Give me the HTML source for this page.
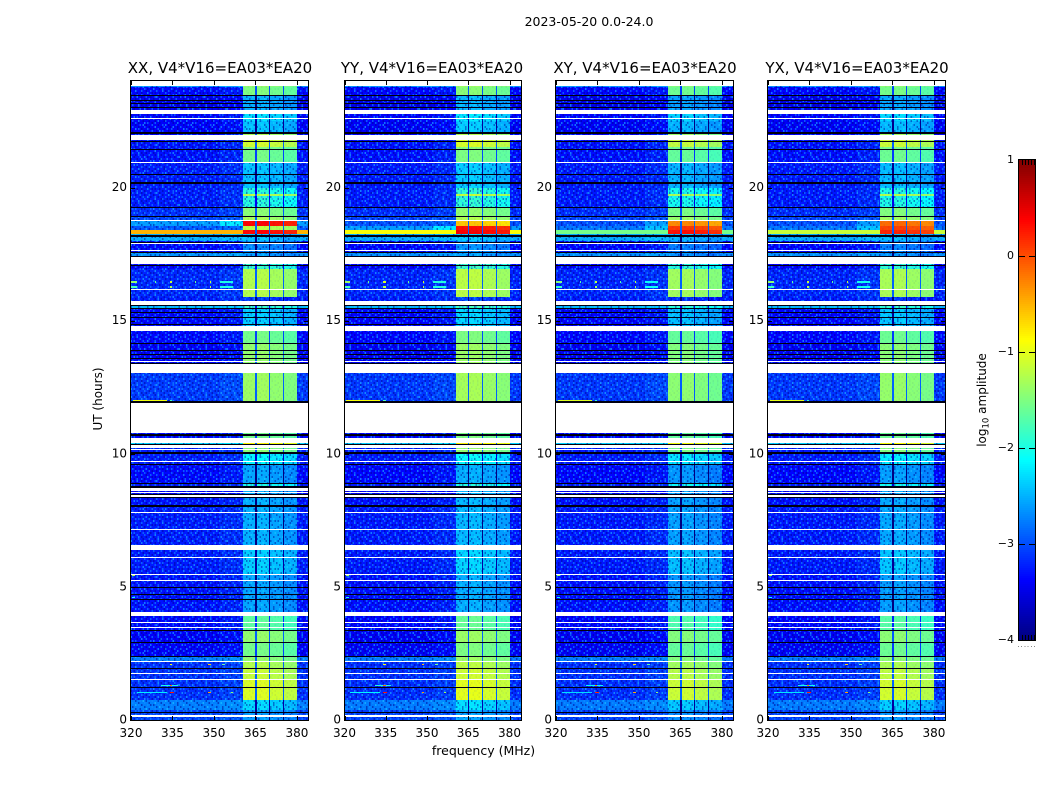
<!DOCTYPE html>
<html lang="en">
<head>
<meta charset="utf-8">
<title>2023-05-20 amplitude waterfall</title>
<style>
html,body{margin:0;padding:0;background:#fff;width:1050px;height:800px;overflow:hidden}
svg{display:block}
text{font-family:"DejaVu Sans","Liberation Sans",sans-serif;fill:#000}
</style>
</head>
<body>
<svg id="figure" width="1050" height="800" viewBox="0 0 1050 800" xmlns="http://www.w3.org/2000/svg">
<defs id="defs"></defs>
<rect x="0" y="0" width="1050" height="800" fill="#fff"/>
<text x="589" y="26" font-size="12.5" text-anchor="middle">2023-05-20 0.0-24.0</text>
<text x="483.5" y="755" font-size="12.5" text-anchor="middle">frequency (MHz)</text>
<text transform="translate(102,399) rotate(-90)" font-size="12" text-anchor="middle">UT (hours)</text>
<text transform="translate(986,400) rotate(-90)" font-size="12" text-anchor="middle">log<tspan font-size="8.5" dy="2.5">10</tspan><tspan dy="-2.5"> amplitude</tspan></text>
</svg>
<script>
// ---- chart data ----
const panelNames = ['XX','YY','XY','YX'];
const baselineLabel = 'V4*V16=EA03*EA20';
const freqTicks = [320,335,350,365,380];
const hourTicks = [0,5,10,15,20];
const colorTicks = [1,0,-1,-2,-3,-4];
const colorTickLabels = ['1','0','\u22121','\u22122','\u22123','\u22124'];

// time segments: start hour, background level, passband level (log10 amplitude)
const segmentStart = [0,0.38,0.75,1.53,1.94,2.18,2.40,2.93,3.39,4.07,5.25,5.47,6.38,7.16,8.09,8.39,8.60,8.71,8.92,9.63,10.05,10.33,10.41,10.59,11.95,13.40,14.16,14.62,14.81,15.49,15.59,15.75,15.89,16.94,17.11,17.40,17.54,17.99,18.25,18.42,18.55,18.74,18.94,19.27,19.68,19.76,20.00,20.96,21.43,21.52,21.78,22.05,22.50,22.76,23.45,23.76];
const backgroundLevel = [-3.05,-2.75,-3.15,-3.15,-3.15,-2.75,-3.4,-3.4,-3.35,-3.3,-3.3,-3.25,-3.25,-3.25,-3.3,-3.4,-3.15,-3.25,-3.35,-3.25,-3.25,-2.3,-3.25,-3.35,-3.1,-3.4,-3.35,-3.35,-3.35,-2.45,-3.25,-3.25,-3.2,-3.35,-3.35,-2.65,-3.35,-2.5,-0.5,-2.95,-2.8,-3.05,-3.15,-3.25,-3.25,-3.25,-3.25,-3.3,-3.3,-3.3,-3.35,-3.4,-3.35,-3.45,-3.35,-2.65];
const passbandLevel = [-2.6,-2.3,-1.05,-1.15,-1.25,-1.4,-1.55,-1.4,-1.65,-2.55,-2.55,-2.35,-2.5,-2.5,-2.5,-2.5,-1.3,-2.0,-2.55,-2.15,-1.45,-0.85,-1.45,-1.55,-1.35,-1.4,-1.55,-1.55,-2.35,-1.85,-2.1,-3.1,-1.25,-1.85,-2.6,-2.6,-2.7,-2.4,0.35,-1.2,0.35,-1.3,-1.45,-1.95,-1.2,-1.95,-2.4,-1.55,-1.5,-1.1,-1.3,-2.4,-2.25,-2.5,-1.5,-1.4];

// polarisation offsets and bright-event overrides
const backgroundOffset = [0,-0.02,-0.02,-0.02];
const passbandOffset = [0,0.04,-0.08,-0.04];
const eventStart = [18.25,18.42,18.55,13.58];
const eventEnd = [18.42,18.55,18.74,14.16];
const eventBackground = [[-0.5,-0.9,-1.55,-1.15],[-2.95,-2.6,-2.8,-2.8],[-2.6,-3.0,-3.0,-3.0],[-3.4,-3.4,-3.4,-3.4]];
const eventPassband = [[0.35,0.4,0.3,0.2],[-1.2,0.3,0.1,0.05],[0.35,-0.6,-0.3,-0.15],[-1.4,-0.8,-1.4,-1.2]];

// four sub-bands in MHz and their relative gain
const subbandStart = [360.5,365.4,370.4,375.4];
const subbandEnd = [364.9,370.0,375.0,380.0];
const subbandGain = [0.0,0.02,-0.06,-0.14];

// flagged (white) rows: start/end hour
const gapStart = [0.13,1.49,1.72,2.16,3.46,3.65,3.91,5.23,5.45,6.10,6.38,7.14,7.78,8.39,8.52,8.60,9.68,10.13,10.22,10.41,10.77,13.04,13.44,14.62,15.59,16.16,17.11,17.61,17.88,18.74,20.92,21.78,22.57,22.76,23.81];
const gapEnd = [0.17,1.55,1.76,2.20,3.50,3.69,4.07,5.27,5.49,6.14,6.57,7.18,7.82,8.45,8.55,8.71,9.71,10.16,10.33,10.59,11.95,13.40,13.48,14.81,15.75,16.20,17.40,17.65,17.92,18.78,20.96,21.98,22.61,22.91,24.0];

// dark dropout rows: centre hour
const dropoutHour = [0.29,1.23,1.94,2.40,2.93,3.39,4.54,4.74,4.98,8.09,8.37,8.50,8.80,8.91,9.63,10.05,10.36,10.75,11.98,13.42,13.58,13.75,13.91,14.16,14.87,15.15,15.34,15.49,15.57,17.10,17.42,17.58,17.95,18.21,18.94,19.27,20.19,20.52,21.43,21.76,22.03,22.07,23.03,23.18,23.29,23.47];
const dropoutThick = [0,0,0,0,0,0,0,0,0,1,0,0,1,0,0,1,0,1,1,0,0,0,0,0,0,0,0,0,0,0,0,0,0,1,0,0,1,0,0,0,0,1,0,0,0,0];

// narrow-band interference: hour, start MHz, end MHz, level
const rfiHour = [1.04,1.04,1.04,1.04,1.30,1.30,2.08,2.08,2.08,11.98,11.98,16.44,16.44,16.44,16.44,16.44,16.44,16.27,16.27,16.27,16.27,5.45,4.6];
const rfiStart = [322,334,348,356,331,334,334,348,353,320.7,334,320,328.6,334,343,348.5,352,320,334,348.5,352,320.5,320.5];
const rfiEnd = [333,335.5,349,357,337,335,335,349,354,333,335,322,329,335,343.5,349,357,322,335,349,357,321.5,321.5];
const rfiLevel = [-2.2,0.25,-0.4,-1.4,-2.0,-0.2,-0.9,-0.6,-1.6,-0.95,-1.8,-1.4,-1.6,-1.1,-1.6,-1.1,-2.0,-1.8,-1.3,-1.3,-2.0,-1.3,-2.0];

// hand-typed speckle tile for the noise-like grain
const grainTile = [
'.l..d..lc.d...l.d..l...dl..c..d.',
'd..l..d...l.d...c.d..l....d..l..',
'..c.d..l.d....l...l.d..c.l...d.l',
'l..d...c...dl..d.d...l...d.l....',
'.d..l.d..l...d...l.c..d.l...c.d.',
'...l...d.c.d..l.d...l.....d.l..d',
'c.d..l...l...d...d..d.lc.d...l..',
'.l..d..d..dl...c..l....d...d..c.',
'd...l.c...l..d..d..c.d..l.l...d.',
'..d...d.l...c.d...l.l..d....dl..',
'l...c...d.d....l.d...d...c.l...d',
'.d.l..l....l.d...c...l.d...d..l.',
'...d...d.c...dl...d.l...l...c..d',
'c.l..d.l..d.....l..d..c.d.l.d...',
'.d...l...d..l.c.d....l....d..l.c',
'l..d...c...d.l...d.c..d.l...d...',
'..l.d.d..l...d.l..l...d...c.l.d.',
'd....l..d.c.l...d...d.l.d.....l.',
'.c.d...l....d..c..l.d...l.d..d..',
'...l.d..d.l...d..d....c...l.l..c',
'l.d...c...d.l.....l.d..d.d...d..',
'.d..l...l...c.d.l..d.l....c...l.',
'..c..d.d..d...l..d...d.l...d..d.',
'd...l....l..d...c..l.c...d.l..l.'
];

// ---- layout ----
const panelLeft = [131,344.5,556,768];
const panelWidth = [177,176,177,177];
const titleCenter = [220,432,645,857];
const plotTop = 81, plotBottom = 720;
const barLeft = 1019, barRight = 1035, barTop = 160, barBottom = 640;
const freqMin = 320, freqMax = 384, hourMin = 0, hourMax = 24, levelMin = -4, levelMax = 1;
const grainW = 1.5, grainH = 2;

// ---- axis functions ----
function xScale(p, mhz){ return panelLeft[p] + (mhz - freqMin) / (freqMax - freqMin) * panelWidth[p]; }
function yScale(h){ return plotBottom - (h - hourMin) / (hourMax - hourMin) * (plotBottom - plotTop); }
function barY(v){ return barBottom - (v - levelMin) / (levelMax - levelMin) * (barBottom - barTop); }
function clip(x){ return Math.max(0, Math.min(1, x)); }
function jet(v){
  const t = clip((v - levelMin) / (levelMax - levelMin));
  const r = clip(Math.min(4*t - 1.5, -4*t + 4.5));
  const g = clip(Math.min(4*t - 0.5, -4*t + 3.5));
  const b = clip(Math.min(4*t + 0.5, -4*t + 2.5));
  return 'rgb(' + Math.round(r*255) + ',' + Math.round(g*255) + ',' + Math.round(b*255) + ')';
}

const svg = document.getElementById('figure');
const SVGNS = svg.namespaceURI;
function mk(tag, attrs, parent){
  const n = document.createElementNS(SVGNS, tag);
  for (const k in attrs) n.setAttribute(k, attrs[k]);
  parent.appendChild(n);
  return n;
}

// ---- grain pattern ----
const defs = document.getElementById('defs');
const grainPattern = mk('pattern', {id:'grain', width:grainTile[0].length*grainW, height:grainTile.length*grainH, patternUnits:'userSpaceOnUse'}, defs);
grainTile.forEach(function(row, j){
  row.split('').forEach(function(ch, i){
    if (ch === '.') return;
    const fill = ch === 'd' ? '#000090' : (ch === 'l' ? '#1090ff' : '#20d0ff');
    const op = ch === 'd' ? 0.5 : (ch === 'l' ? 0.6 : 0.55);
    mk('rect', {x:i*grainW, y:j*grainH, width:grainW, height:grainH, fill:fill, 'fill-opacity':op}, grainPattern);
  });
});

function segmentEnd(i){ return i + 1 < segmentStart.length ? segmentStart[i+1] : hourMax; }
function levelsFor(i, p){
  let bg = backgroundLevel[i] + backgroundOffset[p];
  let band = passbandLevel[i] + passbandOffset[p];
  eventStart.forEach(function(s, e){
    if (segmentStart[i] === s && segmentEnd(i) === eventEnd[e]) {
      bg = eventBackground[e][p];
      band = eventPassband[e][p];
    }
  });
  return {bg:bg, band:band};
}

function cell(group, p, f0, f1, h0, h1, level){
  const x0 = Math.round(xScale(p, f0)), x1 = Math.round(xScale(p, f1));
  const y0 = Math.round(yScale(h1)), y1 = Math.round(yScale(h0));
  const el = mk('rect', {x:x0, y:y0, width:Math.max(1, x1-x0), height:Math.max(1, y1-y0), fill:jet(level)}, group);
  return el;
}

panelNames.forEach(function(pol, p){
  const L = Math.round(panelLeft[p]), R = L + panelWidth[p];
  const g = mk('g', {'shape-rendering':'crispEdges'}, svg);
  
  

  // background cells
  segmentStart.forEach(function(s, i){
    const lv = levelsFor(i, p);
    const a = cell(g, p, freqMin, 352, s, segmentEnd(i), lv.bg);
    
    
    const rise = lv.bg < -2 ? lv.bg + (lv.band > -0.6 ? 0.4 : 0.08) : lv.bg;
    const b = cell(g, p, 352, subbandStart[0], s, segmentEnd(i), rise);
    
    
    const c = cell(g, p, subbandEnd[3], freqMax, s, segmentEnd(i), lv.bg);
    
    
  });

  const grainAll = mk('rect', {x:L, y:plotTop, width:panelWidth[p], height:plotBottom-plotTop, fill:'url(#grain)'}, g);
  
  

  const bandX0 = Math.round(xScale(p, subbandStart[0])), bandX1 = Math.round(xScale(p, subbandEnd[3]));

  // passband cells, bright rows redrawn over the grain
  segmentStart.forEach(function(s, i){
    const lv = levelsFor(i, p);
    if (lv.bg > -2) {
      const hot = cell(g, p, freqMin, freqMax, s, segmentEnd(i), lv.bg);
      
      
    }
    subbandStart.forEach(function(f0, k){
      const a = cell(g, p, f0, subbandEnd[k], s, segmentEnd(i), lv.band + subbandGain[k]);
      
      
    });
    const y0 = Math.round(yScale(segmentEnd(i))), y1 = Math.round(yScale(s));
    const grainBand = mk('rect', {x:bandX0, y:y0, width:bandX1-bandX0, height:Math.max(1, y1-y0), fill:'url(#grain)', opacity:lv.band < -1.8 ? 0.9 : 0.12}, g);
    
    
    subbandStart.forEach(function(f0, k){
      if (k < 3) {
        const n = cell(g, p, subbandEnd[k], subbandStart[k+1], s, segmentEnd(i), Math.min(lv.band - 1.5, -2.9));
        
        
      }
    });
  });

  // narrow-band interference
  rfiHour.forEach(function(h, i){
    const r = cell(g, p, rfiStart[i], rfiEnd[i], h - 0.03, h + 0.03, rfiLevel[i] + passbandOffset[p]);
    
    
  });

  // flagged rows
  gapStart.forEach(function(s, i){
    const w = mk('rect', {x:L, y:Math.round(yScale(gapEnd[i])), width:panelWidth[p], height:Math.max(1, Math.round(yScale(s)) - Math.round(yScale(gapEnd[i]))), fill:'#fff'}, g);
    
    
  });

  // dropout rows
  dropoutHour.forEach(function(h, i){
    const d = mk('rect', {x:L, y:Math.round(yScale(h)), width:panelWidth[p], height:dropoutThick[i] ? 2 : 1, fill:'#000010'}, g);
    
    
  });

  // frame
  const frame = mk('rect', {x:L-0.5, y:plotTop-0.5, width:panelWidth[p]+1, height:plotBottom-plotTop+1, fill:'none', stroke:'#000', 'stroke-width':1}, g);
  
  

  // ticks and labels
  freqTicks.forEach(function(f){
    const x = Math.round(xScale(p, f)) + 0.5;
    const t1 = mk('line', {x1:x, x2:x, y1:plotBottom, y2:plotBottom-4, stroke:'#000'}, g);
    
    
    const t2 = mk('line', {x1:x, x2:x, y1:plotTop, y2:plotTop+4, stroke:'#000'}, g);
    
    
    const lab = mk('text', {x:xScale(p, f), y:plotBottom+17, 'font-size':12, 'text-anchor':'middle'}, svg);
    lab.textContent = String(f);
    
    
  });
  hourTicks.forEach(function(h){
    const y = Math.round(yScale(h)) + 0.5;
    const t1 = mk('line', {x1:L, x2:L+4, y1:y, y2:y, stroke:'#000'}, g);
    
    
    const t2 = mk('line', {x1:R, x2:R-4, y1:y, y2:y, stroke:'#000'}, g);
    
    
    const lab = mk('text', {x:L-4, y:yScale(h)+3.5, 'font-size':12, 'text-anchor':'end'}, svg);
    lab.textContent = String(h);
    
    
  });

  const title = mk('text', {x:titleCenter[p], y:73, 'font-size':15, 'text-anchor':'middle'}, svg);
  title.textContent = pol + ', ' + baselineLabel;
  
  
});

// ---- colorbar ----
const bar = mk('g', {'shape-rendering':'crispEdges'}, svg);


for (let yy = barTop; yy < barBottom; yy += 2) {
  const v = levelMax - (yy + 1 - barTop) / (barBottom - barTop) * (levelMax - levelMin);
  const s = mk('rect', {x:barLeft, y:yy, width:barRight-barLeft, height:2, fill:jet(v)}, bar);
  
  
}
const barFrame = mk('rect', {x:barLeft-0.5, y:barTop-0.5, width:barRight-barLeft+1, height:barBottom-barTop+1, fill:'none', stroke:'#000'}, bar);


colorTicks.forEach(function(v, i){
  const y = Math.round(barY(v)) + 0.5;
  if (v !== levelMax && v !== levelMin) {
    const a = mk('line', {x1:barLeft, x2:barLeft+6, y1:y, y2:y, stroke:'#000'}, bar);
    
    
    const b = mk('line', {x1:barRight, x2:barRight-6, y1:y, y2:y, stroke:'#000'}, bar);
    
    
  }
  const lab = mk('text', {x:barLeft-5, y:barY(v)+3, 'font-size':11, 'text-anchor':'end'}, svg);
  lab.textContent = colorTickLabels[i];
  
  
});
for (let k = 0; k < 5; k++) {
  const x = barLeft + 3.5 + k * 3;
  const a = mk('line', {x1:x, x2:x, y1:barTop, y2:barTop+5, stroke:'#000'}, bar);
  
  
  const b = mk('line', {x1:x, x2:x, y1:barBottom, y2:barBottom-5, stroke:'#000'}, bar);
  
  
}
for (let k = 0; k < 6; k++) {
  const dot = mk('rect', {x:1018 + k*3.2, y:646, width:1, height:1, fill:'#888'}, bar);
  
  
}
</script>
</body>
</html>
